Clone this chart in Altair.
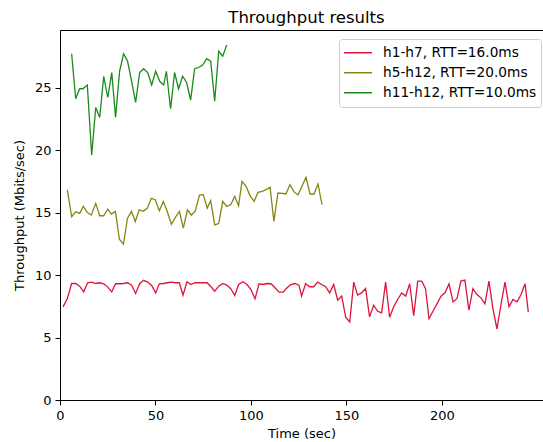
import altair as alt
import pandas as pd

series_names = ["h1-h7, RTT=16.0ms", "h5-h12, RTT=20.0ms", "h11-h12, RTT=10.0ms"]
series_colors = ["#dc143c", "#858515", "#1a8a1a"]

red_t = [1.6, 3.8, 6.1, 8.2, 10.3, 12.4, 14.5, 16.6, 18.7, 20.8,
         22.9, 25.0, 27.1, 29.1, 31.2, 33.3, 35.4, 37.5, 39.6, 41.7,
         43.8, 45.9, 48.0, 50.1, 52.0, 54.1, 56.2, 58.3, 60.4, 62.5,
         64.4, 66.5, 68.6, 70.7, 72.8, 74.9, 77.0, 79.1, 81.0, 83.1,
         85.2, 87.3, 89.4, 91.5, 93.5, 95.8, 97.9, 100.0, 102.1, 104.2,
         106.3, 108.4, 110.5, 112.6, 114.7, 116.8, 118.9, 120.9, 123.0, 125.1,
         126.5, 128.6, 130.7, 132.8, 134.9, 137.0, 139.1, 141.2, 143.3, 145.4,
         147.5, 149.6, 151.7, 153.8, 155.8, 157.9, 160.0, 162.1, 164.2, 166.3,
         168.4, 170.5, 172.6, 174.7, 176.8, 178.9, 181.0, 183.1, 185.2, 187.3,
         189.4, 191.4, 193.2, 195.3, 197.4, 199.5, 201.6, 203.7, 205.8, 207.9,
         209.9, 212.0, 214.1, 216.2, 218.3, 220.4, 222.5, 224.6, 226.7, 228.8,
         230.9, 233.0, 235.1, 237.2, 239.3, 241.4, 243.5, 245.2]
red_v = [7.45, 8.09, 9.32, 9.32, 9.11, 8.65, 9.38, 9.43, 9.32, 9.38,
         9.30, 9.03, 8.65, 9.30, 9.30, 9.32, 9.38, 9.19, 8.52, 9.30,
         9.57, 9.43, 9.16, 8.57, 9.30, 9.32, 9.38, 9.43, 9.38, 9.38,
         8.39, 9.46, 9.24, 9.38, 9.38, 9.38, 9.38, 9.06, 8.71, 9.11,
         9.32, 9.19, 8.90, 8.36, 9.24, 9.46, 9.24, 8.84, 8.09, 9.30,
         9.24, 9.32, 9.30, 8.98, 8.63, 8.63, 8.98, 9.24, 9.32, 9.19,
         8.31, 9.32, 9.06, 9.06, 9.43, 9.24, 9.06, 8.57, 9.24, 7.98,
         8.31, 6.62, 6.24, 9.43, 8.39, 8.57, 8.92, 6.65, 7.58, 7.10,
         6.97, 9.43, 6.62, 7.45, 8.04, 8.57, 8.31, 9.30, 6.75, 9.51,
         9.51, 8.90, 6.51, 7.10, 7.69, 8.31, 8.57, 9.30, 7.85, 8.12,
         9.51, 9.59, 7.18, 8.90, 8.44, 8.17, 7.69, 9.51, 7.29, 5.68,
         7.64, 9.43, 7.45, 8.04, 7.85, 8.44, 9.30, 7.05]

olive_t = [3.8, 6.1, 8.2, 10.3, 12.2, 14.3, 16.4, 18.7, 20.8, 22.9,
           25.0, 26.9, 29.0, 31.1, 33.2, 35.3, 37.4, 39.4, 41.5, 43.6,
           45.7, 47.8, 49.9, 52.0, 54.1, 56.2, 58.3, 60.4, 62.5, 64.6,
           66.7, 68.8, 70.9, 73.0, 75.0, 77.1, 78.9, 81.0, 83.1, 85.2,
           87.3, 89.4, 91.5, 93.5, 95.3, 97.4, 99.5, 101.6, 103.7, 105.8,
           107.9, 110.0, 112.0, 114.1, 116.2, 118.3, 120.4, 122.5, 124.6, 126.7,
           128.8, 130.9, 133.0, 135.1, 137.2]
olive_v = [16.83, 14.66, 15.06, 14.93, 15.49, 15.00, 14.79, 15.73, 14.74, 14.74,
           15.27, 14.87, 15.09, 12.86, 12.46, 14.52, 15.09, 14.28, 15.22, 15.09,
           15.33, 16.13, 16.02, 15.14, 15.89, 15.06, 14.07, 14.60, 15.09, 13.75,
           15.22, 14.79, 15.14, 16.40, 16.43, 15.35, 15.94, 14.01, 14.12, 15.89,
           15.49, 15.62, 16.29, 15.54, 17.50, 17.10, 16.35, 15.89, 16.61, 16.69,
           16.83, 17.02, 14.28, 16.56, 16.53, 16.48, 17.23, 16.67, 16.40, 17.10,
           17.82, 16.48, 16.48, 17.28, 15.62]

green_t = [6.1, 8.2, 10.3, 12.0, 14.3, 16.6, 18.7, 20.8, 22.9, 25.0,
           27.1, 29.1, 31.2, 33.3, 35.4, 37.5, 39.6, 41.7, 43.8, 45.9,
           48.0, 50.1, 52.2, 54.3, 55.7, 57.9, 60.0, 62.1, 64.2, 66.3,
           68.4, 70.5, 72.6, 74.7, 76.8, 78.9, 81.0, 83.1, 85.2, 87.3]
green_v = [27.7, 24.1, 24.9, 24.9, 25.2, 19.6, 23.4, 22.6, 25.9, 24.2,
           26.2, 22.6, 26.3, 27.7, 27.1, 25.5, 23.8, 26.2, 26.5, 26.2,
           25.2, 26.3, 25.5, 25.2, 26.3, 23.3, 26.2, 24.9, 25.9, 25.4,
           24.0, 26.5, 26.6, 26.8, 27.3, 27.1, 23.9, 27.9, 27.5, 28.4]

x_ticks = [0, 50, 100, 150, 200]
y_ticks = [0, 5, 10, 15, 20, 25]

rows = []
for name, ts, vs in zip(series_names, [red_t, olive_t, green_t], [red_v, olive_v, green_v]):
    for t, v in zip(ts, vs):
        rows.append({"series": name, "t": t, "v": v})
df = pd.DataFrame(rows)

FONT = "DejaVu Sans"

axis_common = dict(
    grid=False,
    domainColor="black",
    domainWidth=1,
    tickColor="black",
    tickWidth=1,
    tickSize=5,
    labelPadding=4,
    labelColor="black",
    labelFont=FONT,
    labelFontSize=13,
    labelFlush=False,
    titleFont=FONT,
    titleFontSize=13,
    titleFontWeight="normal",
    titleColor="black",
)

chart = alt.Chart(df).mark_line(strokeWidth=1.3).encode(
    x=alt.X(
        "t:Q",
        scale=alt.Scale(domain=[0, 252.9], nice=False, zero=False),
        axis=alt.Axis(title="Time (sec)", values=x_ticks, titlePadding=5, **axis_common),
    ),
    y=alt.Y(
        "v:Q",
        scale=alt.Scale(domain=[0, 29.6], nice=False),
        axis=alt.Axis(title="Throughput (Mbits/sec)", values=y_ticks, titlePadding=8, **axis_common),
    ),
    color=alt.Color(
        "series:N",
        scale=alt.Scale(domain=series_names, range=series_colors),
        legend=alt.Legend(
            title=None,
            orient="none",
            legendX=279,
            legendY=9,
            symbolType="stroke",
            symbolSize=784,
            symbolStrokeWidth=1.3,
            clipHeight=19.5,
            rowPadding=0,
            labelFont=FONT,
            labelFontSize=13.7,
            labelColor="black",
            labelOffset=10,
            labelLimit=400,
            padding=4,
            strokeColor="#cccccc",
            fillColor="white",
            cornerRadius=3,
        ),
    ),
).properties(
    width=483,
    height=370,
    autosize=alt.AutoSizeParams(type="none"),
    padding={"left": 60, "top": 30, "right": 0, "bottom": 42},
    title=alt.Title(
        "Throughput results",
        font=FONT,
        fontSize=16.5,
        fontWeight="normal",
        color="black",
        anchor="middle",
        dx=5,
        offset=4,
    ),
).configure_view(stroke="black", strokeWidth=1)

chart.save("out.html", embed_options={"renderer": "svg", "actions": False})
